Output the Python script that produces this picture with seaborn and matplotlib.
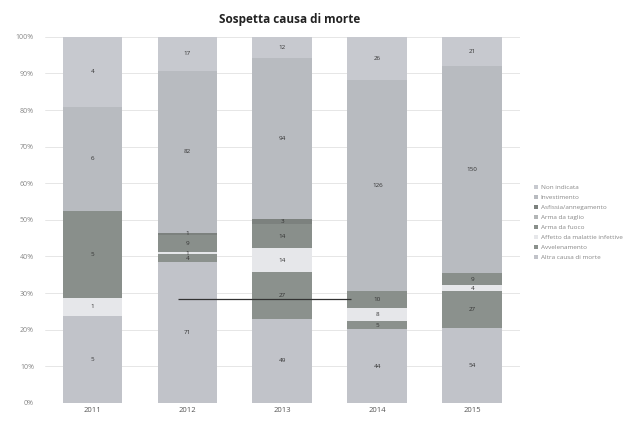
import matplotlib
matplotlib.use("Agg")
import matplotlib.pyplot as plt
from matplotlib.patches import Patch
import seaborn as sns
import pandas as pd
import numpy as np

# anni e cause (dal basso verso l'alto nello stack)
anni = ["2011", "2012", "2013", "2014", "2015"]
cause = [
    "Altra causa di morte",
    "Avvelenamento",
    "Affetto da malattie infettive",
    "Arma da fuoco",
    "Arma da taglio",
    "Asfissia/annegamento",
    "Investimento",
    "Non indicata",
]

altra = [5, 71, 49, 44, 54]
avvelenamento = [0, 4, 27, 5, 27]
affetto = [1, 1, 14, 8, 4]
arma_fuoco = [5, 9, 14, 10, 9]
arma_taglio = [0, 0, 0, 0, 0]
asfissia = [0, 1, 3, 0, 0]
investimento = [6, 82, 94, 126, 150]
non_indicata = [4, 17, 12, 26, 21]

colori = {
    "Altra causa di morte": "#c1c3c9",
    "Avvelenamento": "#8b918d",
    "Affetto da malattie infettive": "#e6e7ea",
    "Arma da fuoco": "#898f8b",
    "Arma da taglio": "#b3b6b7",
    "Asfissia/annegamento": "#7c817e",
    "Investimento": "#b8bbc0",
    "Non indicata": "#c7c9cf",
}

valori = [altra, avvelenamento, affetto, arma_fuoco, arma_taglio,
          asfissia, investimento, non_indicata]
df = pd.DataFrame(np.array(valori).T, index=anni, columns=cause)
pct = df.div(df.sum(axis=1), axis=0)
cum = pct.cumsum(axis=1)

sns.set_style("white")
plt.rcParams["font.family"] = ["Open Sans", "DejaVu Sans"]

fig = plt.figure(figsize=(6.44, 4.24), dpi=100)
ax = fig.add_axes([0.07, 0.05, 0.737, 0.863])

# barre cumulative disegnate dall'alto verso il basso
for causa in cause[::-1]:
    d = pd.DataFrame({"anno": anni, "val": cum[causa].values})
    sns.barplot(data=d, x="anno", y="val", color=colori[causa],
                width=0.63, saturation=1, edgecolor="none", ax=ax, zorder=2)

# etichette dei valori
for i, anno in enumerate(anni):
    base = 0
    for causa in cause:
        h = pct.loc[anno, causa]
        n = df.loc[anno, causa]
        if n > 0:
            ax.text(i, base + h / 2, str(n), ha="center", va="center",
                    fontsize=4.5, color="#333333", zorder=5)
        base += h

# linea orizzontale presente nell'originale
ax.hlines(0.284, 0.9, 2.72, color="#333333", lw=0.9, zorder=6)

ax.set_ylim(0, 1)
ax.set_xlim(-0.5, 4.5)
ax.set_yticks(np.arange(0, 1.01, 0.1))
ax.set_yticklabels([f"{int(round(v * 100))}%" for v in np.arange(0, 1.01, 0.1)])
ax.yaxis.grid(True, color="#e2e2e2", lw=0.6, zorder=0)
ax.tick_params(axis="y", labelsize=5, colors="#888888", length=0, pad=8)
ax.tick_params(axis="x", labelsize=5.5, colors="#555555", length=0, pad=3)
ax.set_xlabel("")
ax.set_ylabel("")
for s in ax.spines.values():
    s.set_visible(False)
ax.axhline(0, color="#cccccc", lw=0.6, zorder=1)

fig.text(0.45, 0.955, "Sospetta causa di morte", ha="center", va="center",
         fontsize=8.5, fontweight="bold", color="#222222")

handles = [Patch(facecolor=colori[c], edgecolor="none", label=c) for c in cause[::-1]]
leg = fig.legend(handles=handles, loc="upper left", bbox_to_anchor=(0.82, 0.578),
                 frameon=False, fontsize=4.6, handlelength=0.6, handleheight=0.6,
                 handletextpad=0.5, labelspacing=0.75)
for t in leg.get_texts():
    t.set_color("#888888")

fig.savefig("out.png", dpi=100)
